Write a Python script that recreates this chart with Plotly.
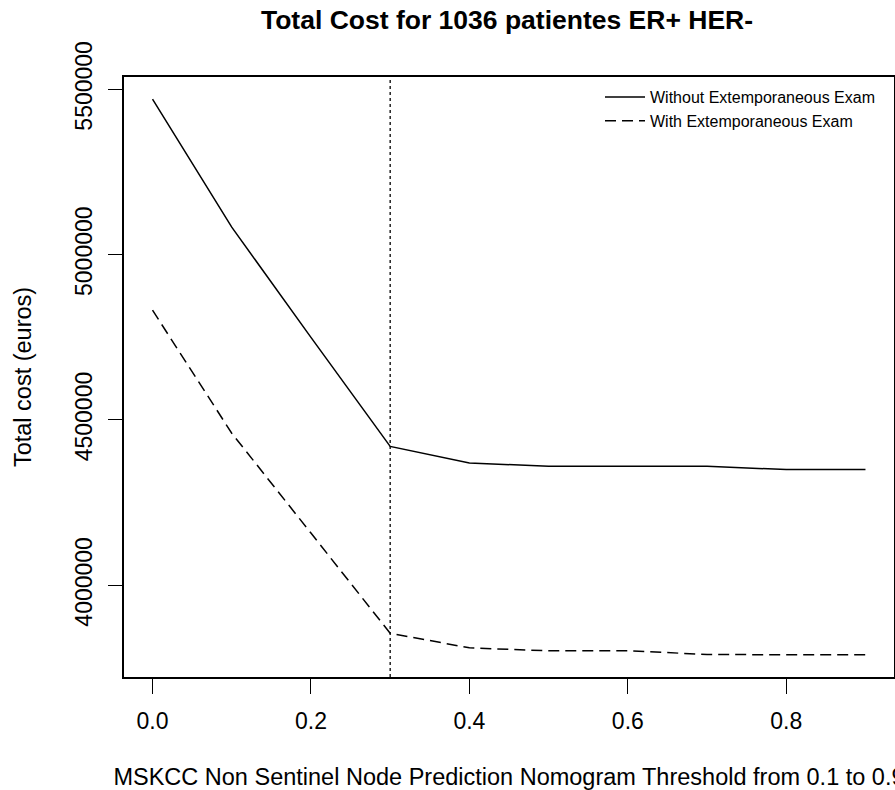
import plotly.graph_objects as go

thresholds = [0.0, 0.1, 0.2, 0.3, 0.4, 0.5, 0.6, 0.7, 0.8, 0.9]
cost_without = [5470000, 5083000, 4750000, 4420000, 4370000, 4360000, 4360000, 4360000, 4350000, 4350000]
cost_with = [4832000, 4460000, 4158000, 3855000, 3811000, 3802000, 3802000, 3791000, 3790000, 3790000]
cutoff = 0.3
x_ticks = [0.0, 0.2, 0.4, 0.6, 0.8]
x_tick_labels = ["0.0", "0.2", "0.4", "0.6", "0.8"]
y_ticks = [4000000, 4500000, 5000000, 5500000]
y_tick_labels = ["4000000", "4500000", "5000000", "5500000"]
series_names = ["Without Extemporaneous Exam", "With Extemporaneous Exam"]
title_text = "Total Cost for 1036 patientes ER+ HER-"
x_title = "MSKCC Non Sentinel Node Prediction Nomogram Threshold from 0.1 to 0.9"
y_title = "Total cost (euros)"

FONT = "Liberation Sans, Arial, Helvetica, sans-serif"


def r_range(vals):
    lo, hi = min(vals), max(vals)
    pad = (hi - lo) * 0.04
    return [lo - pad, hi + pad]


fig = go.Figure()
fig.add_trace(go.Scatter(
    x=thresholds, y=cost_without, mode="lines", name=series_names[0],
    line=dict(color="black", width=1.5),
))
fig.add_trace(go.Scatter(
    x=thresholds, y=cost_with, mode="lines", name=series_names[1],
    line=dict(color="black", width=1.5, dash="11px,6px"),
))
fig.add_vline(x=cutoff, line=dict(color="black", width=1.3, dash="dot"))

fig.update_layout(
    width=895, height=790,
    margin=dict(l=124, r=1, t=77, b=113, autoexpand=False),
    paper_bgcolor="white", plot_bgcolor="white",
    font=dict(family=FONT, color="black", size=23),
    title=dict(text="<b>" + title_text + "</b>", x=507 / 895,
               xanchor="center", y=1 - 20 / 790, yanchor="middle",
               yref="container", font=dict(size=26.5, family=FONT, color="black")),
    showlegend=True,
    legend=dict(x=(600 - 124) / 770, xanchor="left", y=1 - 3 / 600, yanchor="top",
                bgcolor="rgba(0,0,0,0)", borderwidth=0,
                font=dict(size=16, family=FONT, color="black"),
                tracegroupgap=0, itemwidth=40),
)
fig.update_xaxes(
    range=r_range(thresholds), tickvals=x_ticks, ticktext=x_tick_labels,
    showgrid=False, zeroline=False, showline=True, linecolor="black", linewidth=1.5,
    mirror=True, ticks="outside", ticklen=15, tickwidth=1.3, tickcolor="black",
    tickfont=dict(size=23, family=FONT), ticklabelstandoff=8,
    title=dict(text=x_title, standoff=36, font=dict(size=23.5, family=FONT)),
    automargin=False,
)
fig.update_yaxes(
    range=r_range(cost_with + cost_without), tickvals=y_ticks, ticktext=y_tick_labels,
    showgrid=False, zeroline=False, showline=True, linecolor="black", linewidth=1.5,
    mirror=True, ticks="outside", ticklen=14, tickwidth=1.3, tickcolor="black",
    tickangle=-90, tickfont=dict(size=23, family=FONT), ticklabelstandoff=7,
    title=dict(text=y_title, standoff=33, font=dict(size=23.5, family=FONT)),
    automargin=False,
)

fig.write_html("out.html")
